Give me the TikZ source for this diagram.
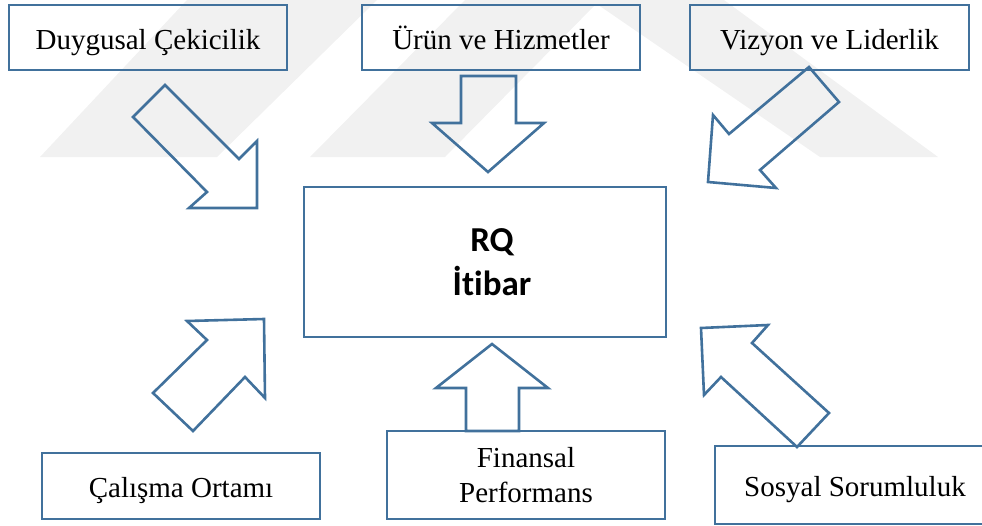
\documentclass[tikz,border=0pt]{standalone}
\usepackage{fontspec}
\setmainfont{Liberation Serif}
\newfontfamily\rqfont[Ligatures=NoCommon]{Carlito}
\definecolor{edge}{HTML}{41719C}
\definecolor{wmark}{gray}{0.945}
\begin{document}
\begin{tikzpicture}[x=1pt,y=-1pt,
  box/.style={draw=edge, line width=2.6pt, inner sep=0pt, align=center,
    font=\fontsize{29}{35}\selectfont},
  oneline/.style={text height=23pt, text depth=0pt},
  blockarrow/.style={draw=edge, line width=2.6pt, line join=miter},
  band/.style={fill=wmark, draw=none}]
\useasboundingbox (0,0) rectangle (982,525);
\clip (0,0) rectangle (982,525);

% faint background bands
\fill[band] (40,157) -- (217,157) -- (377,0) -- (187,0) -- cycle;
\fill[band] (310,157) -- (445,157) -- (600,0) -- (465,0) -- cycle;
\fill[band] (591,0) -- (724,0) -- (938,157) -- (820,157) -- cycle;

% central box and its title
\node[box, minimum width=362pt, minimum height=150pt] (rq) at (485,262) {};
\node[align=center, inner sep=0pt, font=\rqfont\bfseries\fontsize{35}{44}\selectfont]
  (rqtext) at ([xshift=7pt]rq.center) {RQ\\İtibar};

% surrounding factors
\node[box, oneline, minimum width=278pt, minimum height=65pt] (duygu)   at (148,37.5)  {Duygusal Çekicilik};
\node[box, oneline, minimum width=278pt, minimum height=65pt] (urun)    at (501,37.5)  {Ürün ve Hizmetler};
\node[box, oneline, minimum width=279pt, minimum height=65pt] (vizyon)  at (829.5,37.5) {Vizyon ve Liderlik};
\node[box, oneline, minimum width=278pt, minimum height=66pt] (calisma) at (181,486)   {Çalışma Ortamı};
\node[box, minimum width=278pt, minimum height=88pt] (finans)  at (526,475)   {Finansal\\Performans};
\node[box, oneline, minimum width=280pt, minimum height=78pt] (sosyal)  at (855,485)   {Sosyal Sorumluluk};

% block arrows pointing at the central box
\draw[blockarrow] (165,85) -- (239,159) -- (257,141) -- (257,208) -- (189,208) -- (207,192) -- (133,117) -- cycle;
\draw[blockarrow] (461,76) -- (516,76) -- (516,123) -- (544,123) -- (488,172) -- (432,123) -- (461,123) -- cycle;
\draw[blockarrow] (809,67) -- (839,102) -- (760,170) -- (776,188) -- (708,182) -- (713,115) -- (729,134) -- cycle;
\draw[blockarrow] (187,321) -- (264,319) -- (265,398) -- (245,377) -- (193,431) -- (153,393) -- (207,340) -- cycle;
\draw[blockarrow] (492,344) -- (548,388) -- (519,388) -- (519,431) -- (466,431) -- (466,388) -- (436,388) -- cycle;
\draw[blockarrow] (701,328) -- (768,325) -- (752,343) -- (829,413) -- (797,447) -- (721,377) -- (704,395) -- cycle;
\end{tikzpicture}
\end{document}
